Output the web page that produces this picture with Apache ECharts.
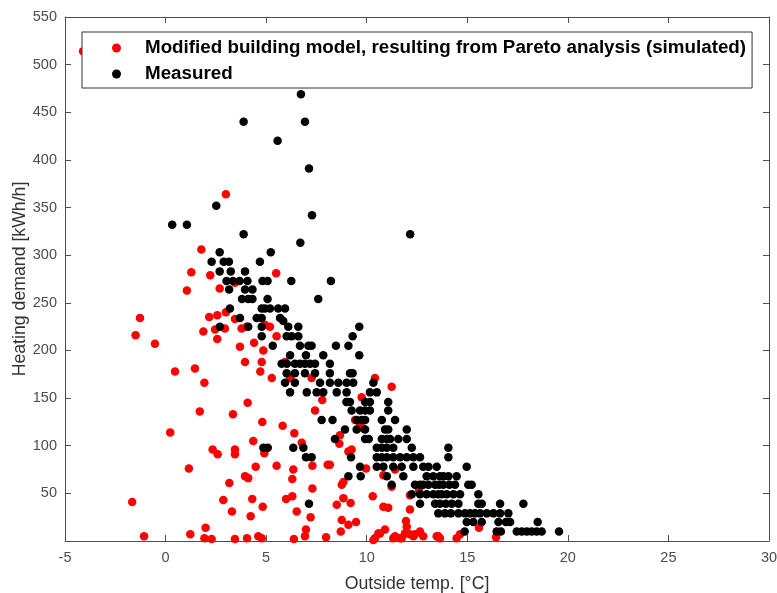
<!DOCTYPE html>
<html>
<head>
<meta charset="utf-8">
<script src="https://cdn.jsdelivr.net/npm/echarts@6/dist/echarts.min.js"></script>
<style>
  html, body { margin: 0; padding: 0; background: #fff; }
  #chart { width: 777px; height: 593px; }
</style>
</head>
<body>
<div id="chart"></div>
<script>
// Simulated heating demand of the modified building model (Pareto analysis)
const simulatedTemp = [
  -4.1, 3.0, 1.78, 1.28, 2.22, 5.5, 1.06, 2.69, 3.45,
  2.17, 2.57, 3.0, 3.45, 1.88, 2.46, 2.95, 3.78, 4.03, 2.57,
  4.94, 5.19, 5.52, 4.4, 3.7, 4.86, 3.95, 4.78, 4.71, 1.46,
  -1.27, -1.49, -0.53, 0.47, 1.93, 1.7, 0.23, 1.16, -1.66, -1.07, 1.23, 1.99, 1.93, 2.29, 3.45, 4.05, 4.61, 4.78, 6.38, 6.93, 6.98, 7.98,
  2.34, 2.59, 3.45, 3.45, 3.17, 2.87, 3.3, 3.95, 4.11, 4.23, 4.31, 4.48, 4.36, 4.83, 4.91, 4.81, 4.08, 3.35,
  5.52, 5.82, 5.99, 6.3, 6.3, 6.35, 6.4, 6.52, 6.77, 7.21, 7.3, 7.3, 8.06, 7.43, 7.79, 7.26, 5.28, 5.94, 6.19,
  8.51, 8.64, 8.67, 8.76, 8.84, 8.84, 8.76, 9.09, 8.71, 9.2, 9.47, 9.09, 9.25, 9.97, 10.3, 10.41, 10.58, 10.91, 10.83, 11.07, 9.75, 9.67, 10.41, 10.83, 11.24,
  9.0, 9.42, 9.83, 8.17, 11.41, 12.15, 11.95, 11.99, 10.33, 10.66, 11.41, 11.66, 11.9, 12.15, 12.32, 12.65, 12.81, 13.56, 14.47, 14.64, 12.15, 12.6, 11.24, 11.32, 11.74, 12.4, 13.48, 13.64, 15.58, 16.43
];
const simulatedDemand = [
  514, 364, 306, 282, 279, 281, 263, 265, 271,
  235, 237, 240, 233, 220, 222, 223, 223, 225, 212,
  227, 225, 215, 208, 204, 200, 188, 188, 178, 181,
  234, 216, 207, 178, 166, 136, 114, 76, 41, 5, 7, 14, 3, 2, 2, 3, 5, 3, 2, 5, 12, 4,
  96, 91, 96, 91, 61, 43, 31, 68, 66, 26, 44, 78, 105, 36, 92, 125, 145, 133,
  79, 121, 44, 47, 65, 75, 113, 31, 103, 25, 55, 79, 80, 137, 148, 171, 171, 188, 171,
  38, 102, 111, 59, 62, 45, 22, 17, 10, 40, 20, 94, 96, 76, 47, 3, 8, 12, 36, 35, 151, 122, 171, 69, 162,
  146, 127, 118, 80, 75, 33, 21, 15, 1, 8, 5, 3, 8, 7, 5, 10, 5, 5, 3, 7, 48, 54, 57, 3, 3, 7, 5, 3, 14, 4
];

// Measured heating demand
const measuredTemp = [
  6.73, 3.88, 6.93, 5.57, 7.13, 2.52, 7.28, 0.33, 1.06, 3.88, 12.16, 6.7, 2.69, 5.23,
  2.29, 2.89, 3.15, 4.69,
  2.69, 3.24, 3.95,
  3.03, 3.35, 3.68, 4.07, 4.82, 5.07, 6.25, 8.22,
  3.16, 3.95, 4.32,
  3.8, 4.11, 4.32, 5.07, 7.59,
  3.2, 4.78, 4.94, 5.19, 5.6, 5.94,
  3.7, 4.53, 4.78, 5.69, 5.85,
  2.7, 4.11, 4.78, 6.1, 6.6, 9.63,
  4.78, 6.02, 6.27, 6.6, 9.3,
  5.33, 6.68, 7.1, 7.26, 8.47, 9.09,
  6.19, 6.98, 7.84, 9.63,
  5.77, 6.03, 6.43, 6.68, 6.93, 7.18, 7.43, 8.17,
  6.02, 6.43, 6.93, 7.43, 8.17, 9.17, 9.3,
  5.94, 6.43, 7.68, 8.17, 8.59, 9.0, 9.33, 10.33,
  6.19, 7.02, 7.51, 7.84, 8.51, 9.0, 10.16, 10.5,
  9.0, 9.17, 9.92, 10.16, 11.07,
  9.25, 9.67, 9.92, 10.16, 11.07,
  7.76, 8.3, 9.5, 9.75, 9.92, 10.75, 11.41,
  8.92, 9.5, 9.92, 10.91, 11.07, 11.99,
  8.42, 9.92, 10.1, 10.75, 11.0, 11.16, 11.57, 11.99,
  4.86, 5.08, 6.35, 6.85, 10.5, 10.75, 11.0, 11.32, 12.24, 14.06,
  6.98, 7.26, 9.22, 10.5, 10.75, 11.0, 11.32, 11.66, 11.99, 12.32, 12.65, 14.06,
  9.67, 10.5, 10.83, 11.32, 11.74, 12.32, 12.81, 13.07, 13.48, 14.97,
  9.09, 9.7, 11.0, 11.82, 12.98, 13.31, 13.64, 13.81, 14.06, 14.47,
  11.24, 12.4, 12.65, 12.81, 13.07, 13.4, 13.6, 13.81, 14.11, 14.39, 15.05, 15.22,
  12.24, 12.65, 12.98, 13.31, 13.55, 13.73, 13.98, 14.31, 14.64, 15.55,
  7.13, 12.65, 13.4, 13.64, 13.93, 14.23, 14.56, 15.55, 15.72, 16.63, 17.79,
  13.56, 13.89, 14.18, 14.56, 14.89, 15.14, 15.38, 15.63, 15.97, 16.3, 16.63, 17.04,
  14.97, 15.3, 15.72, 16.55, 16.92, 17.13, 18.5,
  14.87, 16.46, 16.67, 17.46, 17.71, 17.96, 18.2, 18.45, 18.7, 19.56
];
const measuredDemand = [
  469, 440, 440, 420, 391, 352, 342, 332, 332, 322, 322, 313, 303, 303,
  293, 293, 293, 293,
  283, 283, 283,
  273, 273, 273, 273, 273, 273, 273, 273,
  264, 264, 264,
  254, 254, 254, 254, 254,
  244, 244, 244, 244, 244, 244,
  234, 234, 234, 234, 231,
  225, 225, 225, 225, 225, 225,
  215, 215, 215, 215, 215,
  205, 205, 205, 205, 205, 205,
  195, 195, 195, 195,
  186, 186, 186, 186, 186, 186, 186, 186,
  176, 176, 176, 176, 176, 176, 176,
  166, 166, 166, 166, 166, 166, 166, 166,
  156, 156, 156, 156, 156, 156, 156, 156,
  146, 146, 146, 146, 146,
  137, 137, 137, 137, 137,
  127, 127, 127, 127, 127, 127, 127,
  117, 117, 117, 117, 117, 117,
  107, 107, 107, 107, 107, 107, 107, 107,
  98, 98, 98, 98, 98, 98, 98, 98, 98, 98,
  88, 88, 88, 88, 88, 88, 88, 88, 88, 88, 88, 88,
  78, 78, 78, 78, 78, 78, 78, 78, 78, 78,
  68, 68, 68, 68, 68, 68, 68, 68, 68, 68,
  59, 59, 59, 59, 59, 59, 59, 59, 59, 59, 59, 59,
  49, 49, 49, 49, 49, 49, 49, 49, 49, 49,
  39, 39, 39, 39, 39, 39, 39, 39, 39, 39, 39,
  29, 29, 29, 29, 29, 29, 29, 29, 29, 29, 29, 29,
  20, 20, 20, 20, 20, 20, 20,
  10, 10, 10, 10, 10, 10, 10, 10, 10, 10
];

const xTicks = { min: -5, max: 30, step: 5 };
const yTicks = { min: 0, max: 550, step: 50 };

const zip = (xs, ys) => xs.map((x, i) => [x, ys[i]]);

const FONT = 'Liberation Sans, Arial, sans-serif';
const axisGray = '#4d4d4d';
const labelFont = { color: '#4d4d4d', fontSize: 14.5, fontFamily: FONT };
const nameFont = { color: '#333', fontSize: 17.7, fontFamily: FONT };

const chart = echarts.init(document.getElementById('chart'), null, { renderer: 'canvas' });

const baseAxis = {
  axisLine: { show: true, onZero: false, lineStyle: { color: axisGray, width: 1 } },
  axisTick: { show: true, inside: true, length: 6, lineStyle: { color: axisGray } },
  splitLine: { show: false }
};

chart.setOption({
  animation: false,
  backgroundColor: '#fff',
  grid: { left: 65, right: 8, top: 17, bottom: 52, containLabel: false, outerBoundsMode: 'none' },
  legend: {
    orient: 'vertical',
    left: 82,
    top: 32,
    padding: [6, 6, 4, 30],
    itemGap: 6,
    itemWidth: 9,
    itemHeight: 9,
    icon: 'circle',
    backgroundColor: '#fff',
    borderColor: '#333',
    borderWidth: 1,
    borderRadius: 0,
    textStyle: {
      color: '#000',
      fontWeight: 'bold',
      fontSize: 18.8,
      lineHeight: 20,
      fontFamily: FONT,
      padding: [0, 0, 0, 19]
    },
    data: ['Modified building model, resulting from Pareto analysis (simulated)', 'Measured']
  },
  xAxis: [
    Object.assign({}, baseAxis, {
      type: 'value', position: 'bottom',
      min: xTicks.min, max: xTicks.max, interval: xTicks.step,
      name: 'Outside temp. [°C]', nameLocation: 'middle', nameGap: 34,
      nameMoveOverlap: false,
      nameTextStyle: nameFont,
      axisLabel: Object.assign({ margin: 9 }, labelFont)
    }),
    Object.assign({}, baseAxis, {
      type: 'value', position: 'top',
      min: xTicks.min, max: xTicks.max, interval: xTicks.step,
      axisLabel: { show: false }
    })
  ],
  yAxis: [
    Object.assign({}, baseAxis, {
      type: 'value', position: 'left',
      min: yTicks.min, max: yTicks.max, interval: yTicks.step,
      name: 'Heating demand [kWh/h]', nameLocation: 'middle', nameGap: 36,
      nameMoveOverlap: false,
      nameTextStyle: nameFont,
      axisLabel: Object.assign({
        margin: 8,
        formatter: v => (v === 0 ? '' : String(v))
      }, labelFont)
    }),
    Object.assign({}, baseAxis, {
      type: 'value', position: 'right',
      min: yTicks.min, max: yTicks.max, interval: yTicks.step,
      axisLabel: { show: false }
    })
  ],
  series: [
    {
      name: 'Modified building model, resulting from Pareto analysis (simulated)',
      type: 'scatter',
      symbol: 'circle',
      symbolSize: 8.5,
      itemStyle: { color: '#ff0000', opacity: 1 },
      data: zip(simulatedTemp, simulatedDemand),
      z: 2
    },
    {
      name: 'Measured',
      type: 'scatter',
      symbol: 'circle',
      symbolSize: 8.5,
      itemStyle: { color: '#000000', opacity: 1 },
      data: zip(measuredTemp, measuredDemand),
      z: 3
    }
  ]
});
</script>
</body>
</html>
